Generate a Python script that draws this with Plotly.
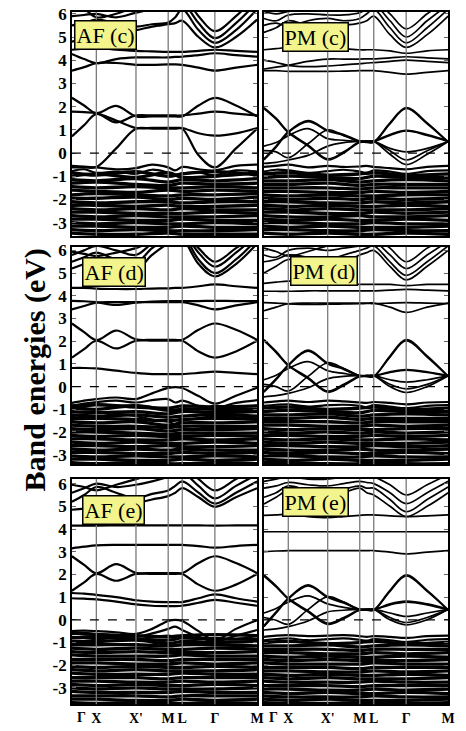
import plotly.graph_objects as go

# High-symmetry path and the finer k-grid used for the conduction bands
K_LABELS = ["Γ", "X", "X'", "M", "L", "Γ", "M"]
K_SYM = [0.0, 0.132, 0.346, 0.520, 0.596, 0.772, 1.0]
K_FINE = [0.0, 0.066, 0.132, 0.239, 0.346, 0.433, 0.520, 0.558, 0.596, 0.684, 0.772, 0.886, 1.0]

PANEL_NAMES = ["AF (c)", "PM (c)", "AF (d)", "PM (d)", "AF (e)", "PM (e)"]
ROW_RANGES = [[-3.58, 6.08], [-3.42, 6.15], [-3.72, 6.20]]
Y_TICKS = [-3, -2, -1, 0, 1, 2, 3, 4, 5, 6]

# ---------------- AF (c) ----------------
AFC_COND = [
    [2.38, 2.05, 1.72, 2.03, 1.58, 1.58, 1.58, 1.58, 1.58, 2.05, 2.38, 2.05, 1.58],
    [0.72, 1.20, 1.68, 1.32, 1.62, 1.62, 1.62, 1.62, 1.62, 1.70, 1.78, 1.70, 1.62],
    [1.78, 1.76, 1.72, 1.40, 1.08, 1.08, 1.08, 1.08, 1.08, 0.85, 0.75, 0.85, 1.08],
    [-0.62, -0.62, -0.60, 0.20, 1.05, 1.05, 1.05, 1.05, 1.05, -0.10, -0.62, 0.20, 1.05],
    [3.55, 3.70, 3.87, 3.88, 3.80, 3.80, 3.82, 3.82, 3.80, 3.68, 3.55, 3.68, 3.80],
    [4.27, 4.05, 3.87, 4.05, 4.12, 4.12, 4.12, 4.14, 4.15, 4.22, 4.30, 4.22, 4.15],
    [4.45, 4.50, 4.55, 4.45, 4.40, 4.38, 4.36, 4.36, 4.36, 4.40, 4.45, 4.40, 4.36],
    [4.80, 4.95, 5.10, 5.20, 5.30, 5.45, 5.55, 5.60, 5.70, 5.00, 4.55, 5.00, 5.75],
    [5.50, 5.60, 5.75, 5.60, 5.45, 5.55, 5.62, 5.85, 6.20, 5.30, 4.75, 5.30, 6.20],
    [5.90, 5.95, 6.00, 5.85, 6.05, 6.20, 6.30, 6.40, 6.50, 5.60, 4.95, 5.60, 6.50],
    [6.30, 6.20, 5.85, 6.00, 6.30, 6.40, 6.50, 6.60, 6.80, 5.90, 5.25, 5.90, 6.80],
]
AFC_TOP = [
    [-0.55, -0.58, -0.62, -0.70, -0.65, -0.50, -0.62, -0.75, -0.60, -0.70, -0.75, -0.55, -0.50],
    [-0.78, -0.70, -0.85, -0.80, -0.90, -0.72, -0.85, -0.95, -0.88, -0.85, -0.95, -0.75, -0.80],
]
AFC_VAL = [
    [-0.85, -0.95, -0.80, -1.00, -0.90, -0.80, -0.95],
    [-1.00, -0.90, -1.05, -0.85, -1.05, -1.00, -0.85],
    [-1.15, -1.20, -1.10, -1.25, -1.15, -1.20, -1.10],
    [-1.30, -1.25, -1.35, -1.40, -1.30, -1.35, -1.30],
    [-1.45, -1.50, -1.45, -1.50, -1.50, -1.45, -1.50],
    [-1.60, -1.65, -1.70, -1.60, -1.65, -1.60, -1.65],
    [-1.80, -1.75, -1.80, -1.85, -1.80, -1.80, -1.75],
    [-1.95, -1.95, -1.90, -2.00, -1.95, -2.00, -1.90],
    [-2.10, -2.15, -2.10, -2.10, -2.15, -2.10, -2.10],
    [-2.25, -2.25, -2.30, -2.25, -2.30, -2.30, -2.25],
    [-2.40, -2.45, -2.40, -2.45, -2.40, -2.45, -2.45],
    [-2.55, -2.55, -2.60, -2.60, -2.60, -2.55, -2.60],
    [-2.70, -2.75, -2.70, -2.75, -2.75, -2.75, -2.70],
    [-2.85, -2.85, -2.90, -2.90, -2.85, -2.90, -2.90],
    [-3.00, -3.05, -3.00, -3.05, -3.05, -3.00, -3.05],
    [-3.15, -3.15, -3.20, -3.20, -3.15, -3.20, -3.20],
    [-3.30, -3.35, -3.30, -3.35, -3.35, -3.35, -3.30],
    [-3.45, -3.50, -3.50, -3.45, -3.50, -3.50, -3.50],
]

# ---------------- PM (c) ----------------
PMC_COND = [
    [1.96, 1.50, 0.92, 0.35, -0.25, 0.05, 0.48, 0.48, 0.48, 1.30, 1.96, 1.30, 0.48],
    [1.92, 1.46, 0.88, 0.30, -0.30, 0.00, 0.46, 0.46, 0.46, 1.26, 1.92, 1.26, 0.46],
    [-0.25, 0.30, 0.92, 1.40, 0.98, 0.80, 0.52, 0.52, 0.52, 0.80, 0.98, 0.80, 0.52],
    [-0.30, 0.25, 0.88, 1.35, 0.95, 0.76, 0.50, 0.50, 0.50, 0.76, 0.95, 0.76, 0.50],
    [0.30, 0.45, 0.75, 1.05, 0.62, 0.55, 0.50, 0.50, 0.50, 0.20, 0.05, 0.20, 0.50],
    [0.10, 0.05, -0.20, 0.40, 1.00, 0.75, 0.50, 0.50, 0.50, -0.05, -0.50, -0.05, 0.50],
    [-0.45, -0.40, -0.30, -0.10, 0.30, 0.45, 0.50, 0.50, 0.50, 0.10, -0.30, 0.10, 0.50],
    [3.55, 3.55, 3.52, 3.52, 3.52, 3.53, 3.55, 3.55, 3.55, 3.48, 3.40, 3.48, 3.55],
    [3.62, 3.70, 3.78, 3.95, 4.05, 4.05, 4.05, 4.06, 4.06, 4.10, 4.15, 4.10, 4.06],
    [4.00, 3.90, 3.78, 3.72, 3.75, 3.80, 3.85, 3.88, 3.90, 3.95, 4.00, 3.95, 3.90],
    [4.45, 4.50, 4.55, 4.60, 4.55, 4.50, 4.45, 4.45, 4.45, 4.40, 4.30, 4.40, 4.45],
    [5.20, 5.40, 5.70, 5.50, 5.40, 5.50, 5.60, 5.70, 5.90, 5.10, 4.55, 5.10, 5.90],
    [5.50, 5.60, 5.45, 5.70, 5.80, 5.70, 5.80, 6.00, 6.20, 5.40, 4.75, 5.40, 6.20],
    [5.80, 5.70, 5.95, 6.00, 5.95, 5.95, 6.05, 6.20, 6.40, 5.70, 5.00, 5.70, 6.40],
    [6.10, 6.00, 6.10, 6.20, 6.20, 6.20, 6.30, 6.40, 6.60, 6.00, 5.35, 6.00, 6.60],
]
PMC_TOP = [
    [-0.60, -0.55, -0.50, -0.62, -0.55, -0.60, -0.58, -0.55, -0.60, -0.65, -0.70, -0.60, -0.55],
    [-0.80, -0.72, -0.75, -0.85, -0.78, -0.72, -0.80, -0.85, -0.75, -0.80, -0.90, -0.78, -0.75],
]
PMC_VAL = [
    [-0.90, -0.85, -0.95, -0.90, -0.85, -0.95, -0.90],
    [-1.05, -1.00, -1.05, -1.10, -1.00, -1.05, -1.05],
    [-1.20, -1.20, -1.15, -1.25, -1.20, -1.15, -1.20],
    [-1.35, -1.35, -1.30, -1.40, -1.35, -1.35, -1.35],
    [-1.50, -1.50, -1.50, -1.55, -1.50, -1.50, -1.50],
    [-1.65, -1.65, -1.70, -1.70, -1.65, -1.70, -1.65],
    [-1.80, -1.85, -1.80, -1.85, -1.85, -1.80, -1.80],
    [-1.95, -2.00, -1.95, -2.00, -1.95, -2.00, -1.95],
    [-2.10, -2.10, -2.15, -2.15, -2.10, -2.15, -2.10],
    [-2.25, -2.30, -2.25, -2.30, -2.30, -2.25, -2.30],
    [-2.40, -2.45, -2.40, -2.45, -2.45, -2.45, -2.40],
    [-2.55, -2.55, -2.60, -2.60, -2.55, -2.60, -2.55],
    [-2.70, -2.75, -2.75, -2.70, -2.75, -2.75, -2.70],
    [-2.85, -2.90, -2.85, -2.90, -2.90, -2.85, -2.90],
    [-3.00, -3.00, -3.05, -3.05, -3.00, -3.05, -3.05],
    [-3.15, -3.20, -3.15, -3.20, -3.20, -3.20, -3.15],
    [-3.30, -3.30, -3.35, -3.35, -3.30, -3.35, -3.35],
    [-3.45, -3.50, -3.45, -3.50, -3.50, -3.45, -3.50],
]

# ---------------- AF (d) ----------------
AFD_COND = [
    [2.78, 2.40, 2.05, 2.47, 2.08, 2.06, 2.06, 2.06, 2.06, 2.50, 2.78, 2.50, 2.06],
    [1.28, 1.65, 2.02, 1.68, 2.02, 2.02, 2.02, 2.02, 2.02, 1.55, 1.28, 1.55, 2.02],
    [0.82, 0.82, 0.80, 0.70, 0.60, 0.55, 0.55, 0.55, 0.55, 0.60, 0.66, 0.60, 0.55],
    [3.40, 3.55, 3.70, 3.72, 3.72, 3.72, 3.72, 3.72, 3.72, 3.58, 3.40, 3.58, 3.72],
    [3.78, 3.76, 3.72, 3.60, 3.70, 3.75, 3.77, 3.77, 3.77, 3.77, 3.78, 3.77, 3.77],
    [4.35, 4.35, 4.32, 4.30, 4.30, 4.32, 4.33, 4.35, 4.35, 4.42, 4.50, 4.42, 4.35],
    [5.20, 5.40, 5.60, 5.30, 5.15, 5.80, 6.30, 6.40, 6.50, 5.40, 4.85, 5.40, 6.30],
    [5.50, 5.70, 5.90, 5.60, 5.45, 6.10, 6.50, 6.60, 6.70, 5.60, 5.00, 5.60, 6.50],
    [5.80, 6.00, 6.20, 6.00, 5.80, 6.30, 6.60, 6.70, 6.80, 5.90, 5.28, 5.90, 6.70],
    [5.95, 5.85, 5.75, 5.90, 6.10, 6.40, 6.60, 6.70, 6.80, 6.10, 5.50, 6.10, 6.70],
]
AFD_TOP = [
    [-0.72, -0.62, -0.55, -0.48, -0.55, -0.30, -0.06, -0.02, -0.06, -0.42, -0.75, -0.40, -0.05],
    [-0.85, -0.75, -0.68, -0.62, -0.70, -0.60, -0.55, -0.70, -0.62, -0.85, -0.95, -0.72, -0.60],
    [-0.95, -0.90, -0.80, -0.85, -0.82, -0.90, -1.00, -1.10, -0.95, -1.00, -0.85, -0.90, -0.85],
    [-1.30, -1.25, -1.35, -1.20, -1.30, -1.45, -1.55, -1.65, -1.50, -1.40, -1.30, -1.35, -1.40],
]
AFD_VAL = [
    [-0.85, -0.80, -0.90, -0.95, -0.85, -0.90, -0.85],
    [-0.95, -1.00, -0.85, -1.05, -1.00, -1.00, -1.00],
    [-1.10, -1.15, -1.10, -1.20, -1.10, -1.15, -1.10],
    [-1.25, -1.30, -1.25, -1.35, -1.30, -1.25, -1.30],
    [-1.40, -1.40, -1.45, -1.50, -1.45, -1.40, -1.45],
    [-1.55, -1.60, -1.55, -1.70, -1.60, -1.60, -1.55],
    [-1.70, -1.75, -1.75, -1.80, -1.75, -1.75, -1.75],
    [-1.85, -1.90, -1.85, -1.95, -1.90, -1.90, -1.85],
    [-2.00, -2.00, -2.05, -2.10, -2.05, -2.05, -2.05],
    [-2.15, -2.20, -2.15, -2.20, -2.20, -2.15, -2.20],
    [-2.30, -2.30, -2.35, -2.35, -2.30, -2.35, -2.30],
    [-2.45, -2.50, -2.45, -2.50, -2.50, -2.45, -2.50],
    [-2.60, -2.60, -2.65, -2.60, -2.65, -2.65, -2.60],
    [-2.75, -2.80, -2.75, -2.80, -2.75, -2.80, -2.80],
    [-2.90, -2.90, -2.95, -2.95, -2.90, -2.95, -2.90],
    [-3.05, -3.10, -3.05, -3.10, -3.10, -3.05, -3.10],
    [-3.20, -3.20, -3.25, -3.25, -3.20, -3.25, -3.20],
    [-3.35, -3.40, -3.35, -3.40, -3.40, -3.35, -3.40],
]

# ---------------- PM (d) ----------------
PMD_COND = [
    [2.07, 1.55, 0.96, 0.40, -0.20, 0.10, 0.46, 0.46, 0.46, 1.35, 2.07, 1.35, 0.46],
    [2.02, 1.50, 0.92, 0.35, -0.25, 0.05, 0.44, 0.44, 0.44, 1.30, 2.02, 1.30, 0.44],
    [-0.20, 0.35, 0.96, 1.61, 1.04, 0.80, 0.48, 0.48, 0.48, 0.65, 0.75, 0.65, 0.48],
    [-0.25, 0.30, 0.92, 1.56, 1.00, 0.76, 0.46, 0.46, 0.46, 0.62, 0.72, 0.62, 0.46],
    [0.30, 0.50, 0.80, 1.10, 0.70, 0.58, 0.48, 0.48, 0.48, 0.30, 0.20, 0.30, 0.48],
    [0.10, 0.00, -0.20, 0.45, 1.05, 0.80, 0.48, 0.48, 0.48, 0.00, -0.26, 0.00, 0.48],
    [-0.45, -0.40, -0.30, -0.05, 0.35, 0.45, 0.48, 0.48, 0.48, 0.10, -0.10, 0.10, 0.48],
    [3.34, 3.50, 3.65, 3.68, 3.68, 3.68, 3.68, 3.68, 3.68, 3.50, 3.27, 3.50, 3.68],
    [3.70, 3.68, 3.65, 3.62, 3.63, 3.64, 3.65, 3.66, 3.66, 3.68, 3.70, 3.68, 3.66],
    [4.20, 4.20, 4.20, 4.22, 4.22, 4.22, 4.22, 4.22, 4.22, 4.25, 4.28, 4.25, 4.22],
    [4.55, 4.60, 4.65, 4.60, 4.55, 4.52, 4.50, 4.50, 4.50, 4.50, 4.45, 4.50, 4.50],
    [5.00, 5.30, 5.60, 5.40, 5.20, 5.50, 5.80, 5.90, 6.00, 5.30, 4.70, 5.30, 6.00],
    [5.50, 5.60, 5.80, 5.70, 5.60, 5.80, 6.00, 6.10, 6.20, 5.50, 4.90, 5.50, 6.20],
    [5.80, 5.70, 6.00, 6.10, 6.00, 6.10, 6.20, 6.30, 6.40, 5.80, 5.20, 5.80, 6.40],
    [6.10, 5.95, 5.75, 5.95, 6.20, 6.30, 6.40, 6.50, 6.60, 6.10, 5.50, 6.10, 6.60],
]
PMD_TOP = [
    [-0.70, -0.65, -0.62, -0.68, -0.62, -0.65, -0.70, -0.72, -0.68, -0.72, -0.78, -0.70, -0.68],
    [-0.85, -0.80, -0.78, -0.88, -0.82, -0.80, -0.85, -0.90, -0.82, -0.88, -0.95, -0.85, -0.82],
]
PMD_VAL = [
    [-0.95, -0.90, -1.00, -0.95, -0.90, -1.00, -0.95],
    [-1.10, -1.05, -1.10, -1.15, -1.05, -1.10, -1.10],
    [-1.25, -1.25, -1.20, -1.30, -1.25, -1.20, -1.25],
    [-1.40, -1.40, -1.35, -1.45, -1.40, -1.40, -1.40],
    [-1.55, -1.55, -1.55, -1.60, -1.55, -1.55, -1.55],
    [-1.70, -1.70, -1.75, -1.75, -1.70, -1.75, -1.70],
    [-1.85, -1.90, -1.85, -1.90, -1.90, -1.85, -1.85],
    [-2.00, -2.05, -2.00, -2.05, -2.00, -2.05, -2.00],
    [-2.15, -2.15, -2.20, -2.20, -2.15, -2.20, -2.15],
    [-2.30, -2.35, -2.30, -2.35, -2.35, -2.30, -2.35],
    [-2.45, -2.50, -2.45, -2.50, -2.50, -2.50, -2.45],
    [-2.60, -2.60, -2.65, -2.65, -2.60, -2.65, -2.60],
    [-2.75, -2.80, -2.80, -2.75, -2.80, -2.80, -2.75],
    [-2.90, -2.95, -2.90, -2.95, -2.95, -2.90, -2.95],
    [-3.05, -3.05, -3.10, -3.10, -3.05, -3.10, -3.10],
    [-3.20, -3.25, -3.20, -3.25, -3.25, -3.25, -3.20],
    [-3.35, -3.35, -3.40, -3.40, -3.35, -3.40, -3.40],
]

# ---------------- AF (e) ----------------
AFE_COND = [
    [2.80, 2.42, 2.05, 2.45, 2.07, 2.06, 2.06, 2.06, 2.06, 2.50, 2.80, 2.50, 2.06],
    [1.28, 1.65, 2.02, 1.72, 2.02, 2.02, 2.02, 2.02, 2.02, 1.55, 1.28, 1.55, 2.02],
    [1.18, 1.15, 1.10, 1.00, 0.86, 0.80, 0.78, 0.78, 0.78, 0.95, 1.12, 0.95, 0.80],
    [0.95, 0.93, 0.90, 0.80, 0.68, 0.62, 0.60, 0.60, 0.62, 0.75, 0.88, 0.75, 0.62],
    [3.15, 3.22, 3.28, 3.30, 3.30, 3.30, 3.30, 3.30, 3.30, 3.25, 3.18, 3.25, 3.30],
    [4.15, 4.15, 4.15, 4.16, 4.16, 4.16, 4.16, 4.16, 4.16, 4.16, 4.15, 4.16, 4.16],
    [4.85, 4.90, 5.00, 5.10, 5.15, 5.30, 5.45, 5.60, 5.80, 5.40, 4.98, 5.40, 5.80],
    [5.20, 5.50, 5.85, 5.60, 5.35, 5.55, 5.70, 5.90, 6.10, 5.60, 5.12, 5.60, 6.10],
    [5.60, 5.80, 6.00, 5.85, 5.95, 6.10, 6.30, 6.40, 6.50, 5.90, 5.35, 5.90, 6.40],
    [5.95, 5.85, 5.70, 5.95, 6.20, 6.40, 6.60, 6.70, 6.80, 6.20, 5.70, 6.20, 6.70],
]
AFE_TOP = [
    [-0.50, -0.48, -0.50, -0.55, -0.62, -0.40, -0.05, 0.00, -0.05, -0.50, -0.90, -0.40, -0.02],
    [-0.60, -0.58, -0.62, -0.70, -0.75, -0.60, -0.40, -0.30, -0.45, -0.75, -0.95, -0.70, -0.45],
    [-0.75, -0.80, -0.85, -0.80, -0.85, -0.78, -0.70, -0.75, -0.78, -0.85, -0.80, -0.85, -0.70],
]
AFE_VAL = [
    [-0.60, -0.65, -0.70, -0.75, -0.70, -0.65, -0.70],
    [-0.80, -0.75, -0.85, -0.90, -0.80, -0.85, -0.85],
    [-0.95, -0.95, -0.90, -1.05, -0.95, -1.00, -0.95],
    [-1.10, -1.10, -1.10, -1.15, -1.10, -1.10, -1.15],
    [-1.25, -1.30, -1.25, -1.30, -1.30, -1.25, -1.30],
    [-1.40, -1.45, -1.40, -1.45, -1.45, -1.45, -1.40],
    [-1.55, -1.60, -1.60, -1.60, -1.55, -1.60, -1.60],
    [-1.75, -1.75, -1.75, -1.80, -1.75, -1.75, -1.75],
    [-1.90, -1.90, -1.95, -1.95, -1.90, -1.95, -1.90],
    [-2.05, -2.10, -2.05, -2.10, -2.10, -2.05, -2.10],
    [-2.20, -2.25, -2.20, -2.25, -2.25, -2.25, -2.20],
    [-2.35, -2.40, -2.40, -2.40, -2.35, -2.40, -2.40],
    [-2.55, -2.55, -2.55, -2.60, -2.55, -2.55, -2.55],
    [-2.70, -2.70, -2.75, -2.75, -2.70, -2.75, -2.70],
    [-2.85, -2.90, -2.85, -2.90, -2.90, -2.85, -2.90],
    [-3.00, -3.05, -3.00, -3.05, -3.05, -3.05, -3.00],
    [-3.15, -3.20, -3.20, -3.20, -3.15, -3.20, -3.20],
    [-3.35, -3.35, -3.35, -3.40, -3.35, -3.35, -3.35],
    [-3.50, -3.50, -3.55, -3.55, -3.50, -3.55, -3.50],
    [-3.65, -3.68, -3.65, -3.68, -3.68, -3.65, -3.68],
]

# ---------------- PM (e) ----------------
PME_COND = [
    [1.98, 1.50, 0.95, 0.40, -0.15, 0.10, 0.44, 0.44, 0.44, 1.30, 1.98, 1.30, 0.44],
    [1.93, 1.45, 0.91, 0.35, -0.20, 0.05, 0.42, 0.42, 0.42, 1.25, 1.93, 1.25, 0.42],
    [-0.25, 0.35, 0.95, 1.54, 1.02, 0.78, 0.46, 0.46, 0.46, 0.70, 0.82, 0.70, 0.46],
    [-0.30, 0.30, 0.91, 1.49, 0.98, 0.74, 0.44, 0.44, 0.44, 0.66, 0.78, 0.66, 0.44],
    [0.30, 0.50, 0.78, 1.05, 0.70, 0.55, 0.46, 0.46, 0.46, 0.30, 0.15, 0.30, 0.46],
    [0.10, -0.02, -0.20, 0.45, 1.02, 0.78, 0.46, 0.46, 0.46, 0.00, -0.22, 0.00, 0.46],
    [-0.45, -0.40, -0.30, -0.05, 0.35, 0.42, 0.46, 0.46, 0.46, 0.10, -0.12, 0.10, 0.46],
    [3.00, 3.03, 3.05, 3.05, 3.05, 3.05, 3.05, 3.05, 3.05, 2.98, 2.90, 2.98, 3.05],
    [3.88, 3.88, 3.88, 3.88, 3.88, 3.88, 3.88, 3.88, 3.88, 3.88, 3.88, 3.88, 3.88],
    [4.60, 4.62, 4.65, 4.55, 4.50, 4.55, 4.60, 4.62, 4.62, 4.58, 4.55, 4.58, 4.62],
    [5.10, 5.40, 5.70, 5.50, 5.40, 5.60, 5.80, 5.60, 5.50, 5.00, 4.55, 5.00, 5.60],
    [5.40, 5.60, 5.90, 5.70, 5.60, 5.75, 5.90, 5.80, 5.80, 5.30, 4.76, 5.30, 5.85],
    [5.80, 5.90, 6.05, 5.95, 5.90, 6.00, 6.10, 6.05, 6.00, 5.60, 5.12, 5.60, 6.10],
    [6.10, 6.20, 6.30, 6.20, 6.20, 6.30, 6.40, 6.35, 6.30, 5.95, 5.50, 5.95, 6.40],
]
PME_TOP = [
    [-0.75, -0.70, -0.68, -0.72, -0.70, -0.68, -0.72, -0.75, -0.72, -0.75, -0.80, -0.72, -0.70],
    [-0.90, -0.85, -0.82, -0.90, -0.85, -0.82, -0.88, -0.92, -0.85, -0.90, -0.98, -0.88, -0.85],
]
PME_VAL = [
    [-1.00, -0.95, -1.05, -1.00, -0.95, -1.05, -1.00],
    [-1.15, -1.15, -1.10, -1.20, -1.15, -1.10, -1.15],
    [-1.30, -1.30, -1.30, -1.35, -1.30, -1.30, -1.30],
    [-1.45, -1.45, -1.50, -1.50, -1.45, -1.50, -1.45],
    [-1.60, -1.65, -1.60, -1.65, -1.65, -1.60, -1.65],
    [-1.75, -1.80, -1.75, -1.80, -1.80, -1.80, -1.75],
    [-1.90, -1.95, -1.95, -1.95, -1.90, -1.95, -1.95],
    [-2.10, -2.10, -2.10, -2.15, -2.10, -2.10, -2.10],
    [-2.25, -2.25, -2.30, -2.30, -2.25, -2.30, -2.25],
    [-2.40, -2.45, -2.40, -2.45, -2.45, -2.40, -2.45],
    [-2.55, -2.60, -2.55, -2.60, -2.60, -2.60, -2.55],
    [-2.70, -2.75, -2.75, -2.75, -2.70, -2.75, -2.75],
    [-2.90, -2.90, -2.90, -2.95, -2.90, -2.90, -2.90],
    [-3.05, -3.05, -3.10, -3.10, -3.05, -3.10, -3.05],
    [-3.20, -3.25, -3.20, -3.25, -3.25, -3.20, -3.25],
    [-3.35, -3.40, -3.40, -3.40, -3.35, -3.40, -3.40],
    [-3.50, -3.55, -3.50, -3.55, -3.55, -3.55, -3.50],
    [-3.65, -3.68, -3.68, -3.65, -3.68, -3.68, -3.65],
]

PANELS = [
    (AFC_COND, AFC_TOP, AFC_VAL),
    (PMC_COND, PMC_TOP, PMC_VAL),
    (AFD_COND, AFD_TOP, AFD_VAL),
    (PMD_COND, PMD_TOP, PMD_VAL),
    (AFE_COND, AFE_TOP, AFE_VAL),
    (PME_COND, PME_TOP, PME_VAL),
]

# Panel geometry in paper fractions (figure 466 x 731 px)
W, H = 466, 731
COL_X = [(73 / W, 261 / W), (268 / W, 455 / W)]
ROW_Y = [(1 - 232 / H, 1 - 6 / H), (1 - 462 / H, 1 - 243 / H), (1 - 704 / H, 1 - 477 / H)]
LABEL_POS = [(0.012, 0.962), (0.10, 0.955), (0.053, 0.954), (0.144, 0.96), (0.053, 0.93), (0.10, 0.965)]

SERIF = "Liberation Serif"
TICK_FONT_X = dict(family=SERIF, size=14, color="black", weight="bold")

fig = go.Figure()
layout = dict(
    width=W, height=H, margin=dict(l=0, r=0, t=0, b=0),
    paper_bgcolor="white", plot_bgcolor="white", showlegend=False,
)
shapes, annotations = [], []

for i, (cond, top, val) in enumerate(PANELS):
    row, col = divmod(i, 2)
    suffix = "" if i == 0 else str(i + 1)
    xa, ya = "x" + suffix, "y" + suffix
    is_af = col == 0

    def add_bands(kx, bands, width):
        for b in bands:
            fig.add_trace(go.Scatter(
                x=kx, y=b, mode="lines", xaxis=xa, yaxis=ya,
                line=dict(color="black", width=width, shape="spline", smoothing=1.0),
                hoverinfo="skip",
            ))

    add_bands(K_SYM, val, 3.3)
    add_bands(K_FINE, top, 2.2)
    add_bands(K_FINE, cond, 2.2 if is_af else 1.7)

    # the leading Γ label sits a little inside the frame, so it is drawn separately
    layout["xaxis" + suffix] = dict(
        domain=list(COL_X[col]), range=[0, 1], anchor=ya,
        tickvals=K_SYM[1:], ticktext=K_LABELS[1:], ticks="",
        showticklabels=(row == 2), showgrid=False, zeroline=False,
        showline=True, linecolor="black", linewidth=1.5, mirror=True,
        tickfont=TICK_FONT_X,
    )
    layout["yaxis" + suffix] = dict(
        domain=list(ROW_Y[row]), range=ROW_RANGES[row], anchor=xa,
        tickvals=Y_TICKS, ticktext=[str(t) for t in Y_TICKS],
        showticklabels=is_af, ticks="inside", ticklen=4, tickwidth=1,
        tickcolor="#666", showgrid=False, zeroline=False,
        showline=True, linecolor="black", linewidth=1.5, mirror="ticks",
        tickfont=dict(family=SERIF, size=17, color="black", weight="bold"),
    )
    if row == 2:
        annotations.append(dict(
            text=K_LABELS[0], xref=xa, yref=f"{ya} domain", x=K_SYM[0], y=0,
            xanchor="center", yanchor="top", xshift=10, yshift=-4, showarrow=False,
            font=TICK_FONT_X,
        ))

    # vertical separators at the interior high-symmetry points
    for k in K_SYM[1:-1]:
        shapes.append(dict(
            type="line", xref=xa, yref=f"{ya} domain", x0=k, x1=k, y0=0, y1=1,
            line=dict(color="#7a7a7a", width=1.3), layer="above",
        ))
    # Fermi level
    shapes.append(dict(
        type="line", xref=f"{xa} domain", yref=ya, x0=0, x1=1, y0=0, y1=0,
        line=dict(color="black", width=1.3, dash="dash"), layer="above",
    ))

    lx, ly = LABEL_POS[i]
    annotations.append(dict(
        text=PANEL_NAMES[i], xref=f"{xa} domain", yref=f"{ya} domain",
        x=lx, y=ly, xanchor="left", yanchor="top", showarrow=False,
        font=dict(family=SERIF, size=22, color="black"),
        bgcolor="#f4f48c", bordercolor="black", borderwidth=1.5, borderpad=1,
    ))

annotations.append(dict(
    text="Band energies (eV)", xref="paper", yref="paper",
    x=36 / W, y=1 - 367 / H, xanchor="center", yanchor="middle",
    textangle=-90, showarrow=False,
    font=dict(family=SERIF, size=30, color="black", weight="bold"),
))

layout["shapes"] = shapes
layout["annotations"] = annotations
fig.update_layout(**layout)
fig.write_html("out.html")
